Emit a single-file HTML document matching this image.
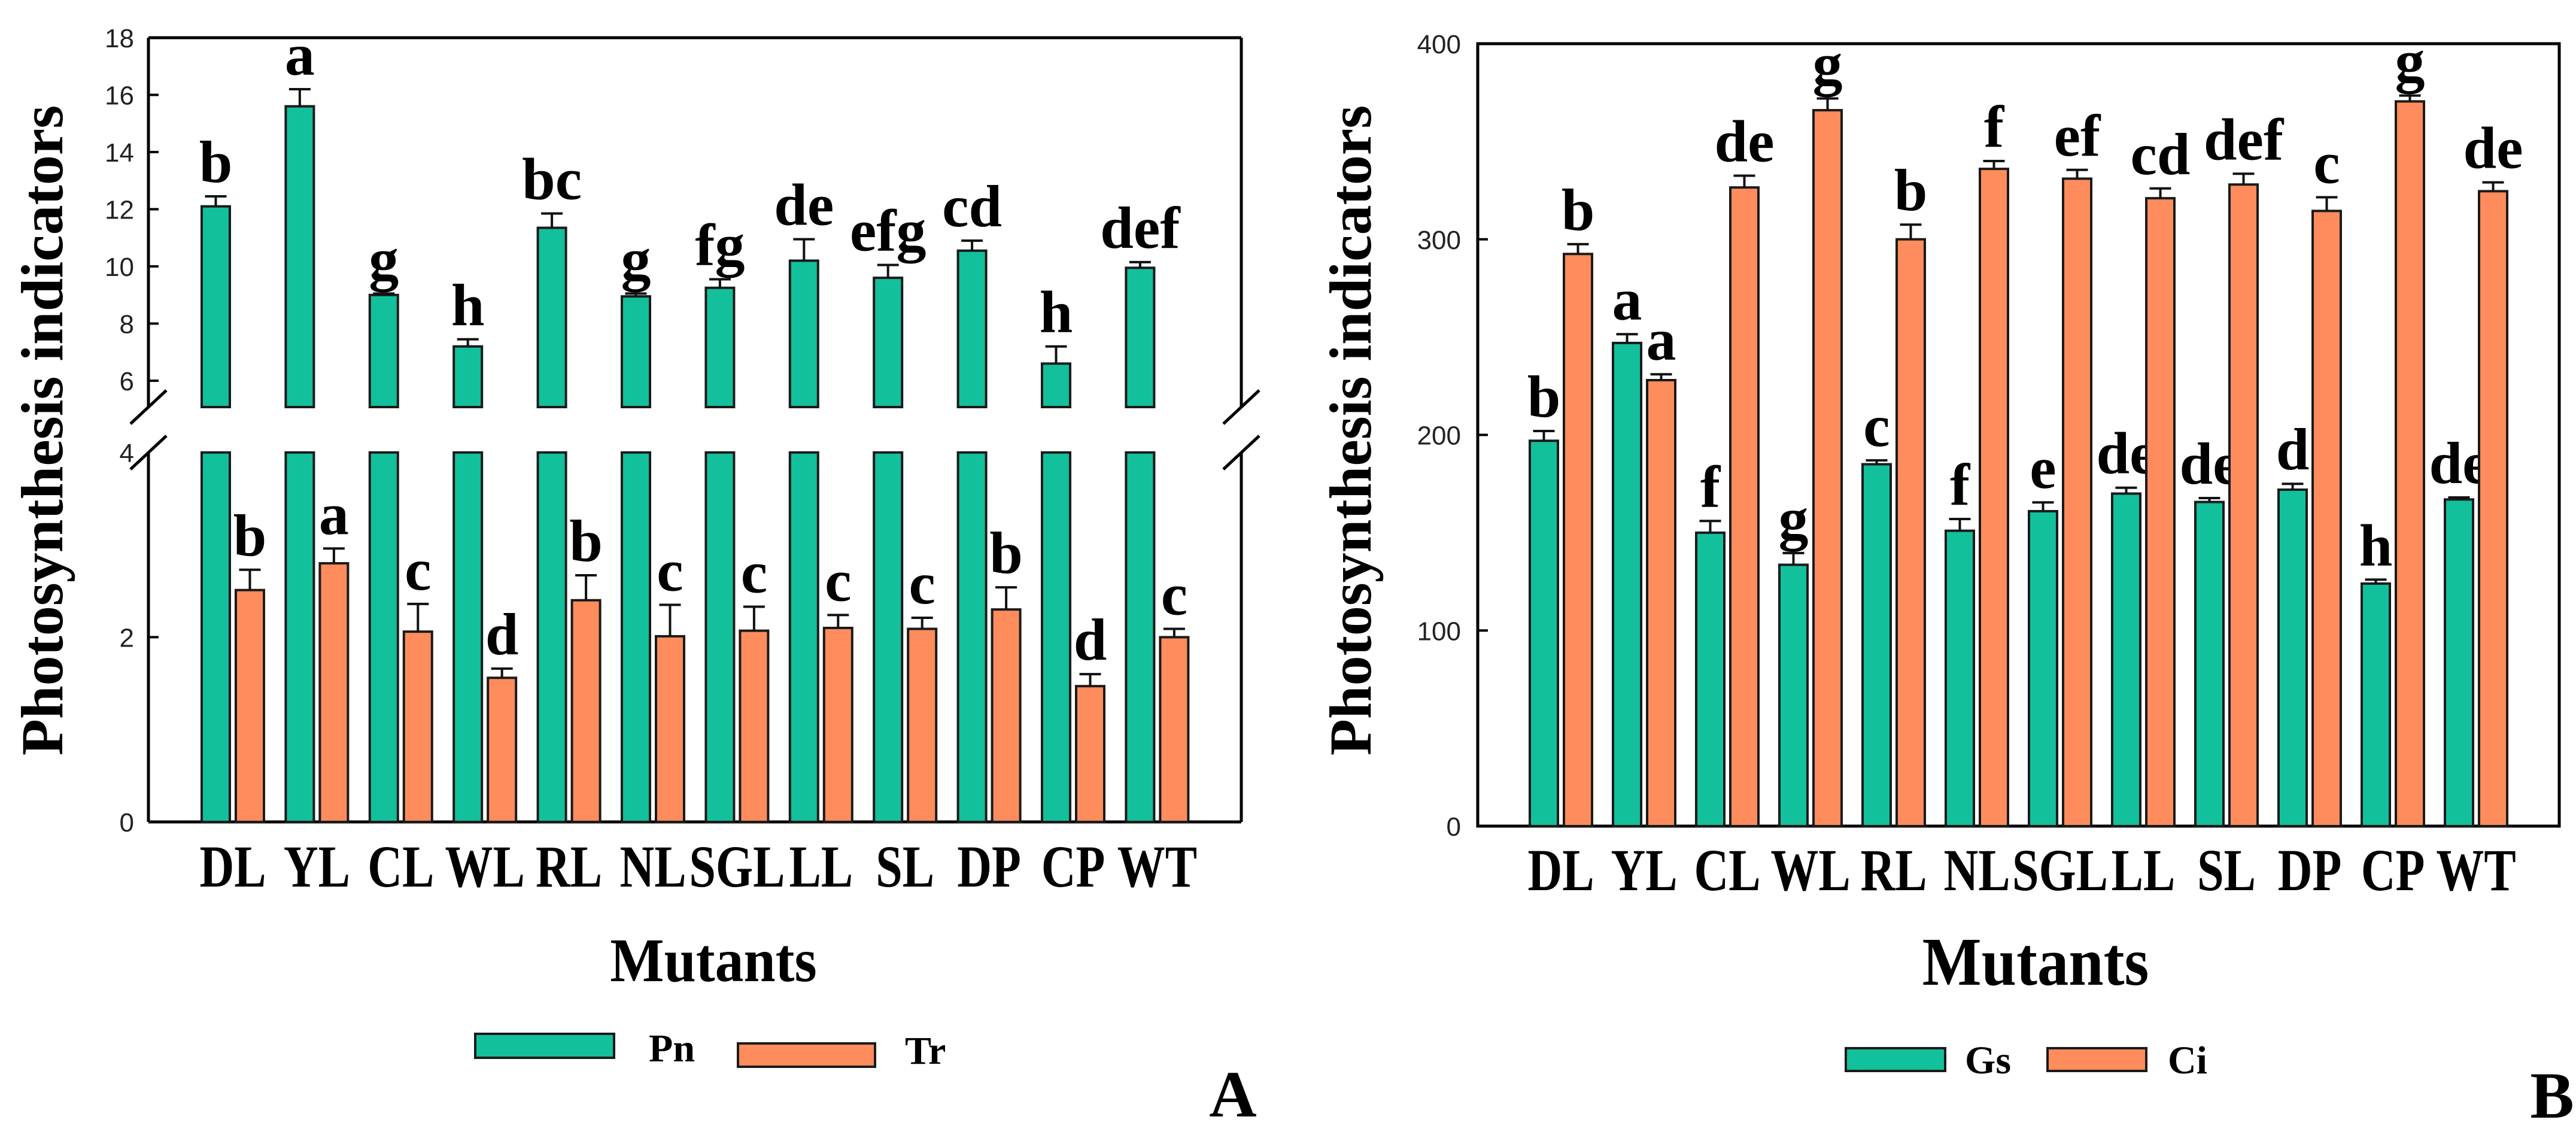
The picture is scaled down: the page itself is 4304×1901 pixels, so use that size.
<!DOCTYPE html>
<html><head><meta charset="utf-8"><style>
html,body{margin:0;padding:0;background:#fff}
svg{display:block}
.t{font-family:"Liberation Sans",sans-serif;font-size:44px;fill:#222}
.b{font-family:"Liberation Serif",serif;font-weight:bold;fill:#000}
</style></head><body>
<svg id="chart" width="4304" height="1901" viewBox="0 0 4304 1901" xmlns="http://www.w3.org/2000/svg">
<g id="A"></g>
<g id="B"></g>
</svg>
<script>
const categories = ["DL","YL","CL","WL","RL","NL","SGL","LL","SL","DP","CP","WT"];
const pnValues = [12.1,15.6,9.0,7.2,11.35,8.95,9.25,10.2,9.6,10.55,6.6,9.95];
const pnErrors = [0.35,0.6,0.05,0.25,0.5,0.1,0.3,0.75,0.45,0.35,0.6,0.2];
const pnLetters = ["b","a","g","h","bc","g","fg","de","efg","cd","h","def"];
const trValues = [2.51,2.8,2.06,1.56,2.4,2.01,2.07,2.1,2.09,2.3,1.47,2.0];
const trErrors = [0.22,0.16,0.3,0.1,0.27,0.34,0.26,0.14,0.12,0.24,0.13,0.09];
const trLetters = ["b","a","c","d","b","c","c","c","c","b","d","c"];
const gsValues = [197,247,150,133.6,185,151,161,170,165.7,172,124,167];
const gsErrors = [5,4.5,6,6,2,6,4.5,3,2,3,2,1];
const gsLetters = ["b","a","f","g","c","f","e","de","de","d","h","de"];
const ciValues = [292.5,228,326.5,366,300,336,331,321,328,314.5,370.5,324.6];
const ciErrors = [5,3,6,6,7.5,4,4.5,5,5.5,7,3,4.5];
const ciLetters = ["b","a","de","g","b","f","ef","cd","def","c","g","de"];
const ticksUpperA = [6,8,10,12,14,16,18];
const ticksLowerA = [0,2,4];
const ticksB = [0,100,200,300,400];

const NS="http://www.w3.org/2000/svg";
const GREEN="#12c09c", ORANGE="#ff8c5c", EDGE="#1a1a1a";
function mk(parent,tag,attrs){const e=document.createElementNS(NS,tag);for(const k in attrs)e.setAttribute(k,attrs[k]);parent.appendChild(e);return e;}
function txt(parent,x,y,s,cls,size,anchor){const e=mk(parent,"text",{x:x,y:y,"class":cls,"text-anchor":anchor||"middle"});if(size)e.setAttribute("font-size",size);e.textContent=s;return e;}
function ctxt(parent,x,y,s,size,sx){const e=mk(parent,"text",{x:0,y:0,"class":"b","text-anchor":"middle","font-size":size,transform:`translate(${x},${y}) scale(${sx},1)`});e.textContent=s;return e;}

// ---------- Panel A ----------
const A=document.getElementById("A");
const aL=248,aR=2074,aT=63,aBot=1373,brkHi=680,brkLo=756;
function yAU(v){return aT+(18-v)*47.75;}
function yAL(v){return aBot-v*154.3;}
const xA0=337,pitchA=140.4,bw=47,off=57;
function xA(i){return xA0+i*pitchA;}
let fr;
fr=mk(A,"line",{x1:aL,y1:aT,x2:aR,y2:aT,stroke:"#000","stroke-width":5});


fr=mk(A,"line",{x1:aL,y1:aBot,x2:aR,y2:aBot,stroke:"#000","stroke-width":5});


fr=mk(A,"path",{d:`M${aL},${aT}V${brkHi}M${aL},${brkLo}V${aBot}`,stroke:"#000","stroke-width":5,fill:"none"});


fr=mk(A,"path",{d:`M${aR},${aT}V${brkHi}M${aR},${brkLo}V${aBot}`,stroke:"#000","stroke-width":5,fill:"none"});


[aL,aR].forEach(x=>{[brkHi,brkLo].forEach(y=>{
  const l=mk(A,"line",{x1:x-30,y1:y+28,x2:x+30,y2:y-28,stroke:"#000","stroke-width":5});
  
  
});});
ticksUpperA.forEach(v=>{const y=yAU(v);
  if(v<18){const t=mk(A,"line",{x1:aL,y1:y,x2:aL+17,y2:y,stroke:"#000","stroke-width":4});}
  const l=txt(A,224,y+16,String(v),"t",null,"end");
  
  
});
ticksLowerA.forEach(v=>{const y=yAL(v);
  if(v>0&&v<4){const t=mk(A,"line",{x1:aL,y1:y,x2:aL+17,y2:y,stroke:"#000","stroke-width":4});}
  const l=txt(A,224,y+16,String(v),"t",null,"end");
  
  
});
function drawBar(g,x,v,err,letter,color,yf,name,splitTop){
  const top=yf(v);
  if(splitTop){
    const r1=mk(g,"rect",{x:x,y:yAL(4),width:bw,height:aBot-yAL(4),fill:color,stroke:EDGE,"stroke-width":4});
    
    
    const r2=mk(g,"rect",{x:x,y:top,width:bw,height:brkHi-top,fill:color,stroke:EDGE,"stroke-width":4});
    
    
  } else {
    const r=mk(g,"rect",{x:x,y:top,width:bw,height:yf(0)-top,fill:color,stroke:EDGE,"stroke-width":4});
    
    
  }
  const ey=yf(v+err),cx=x+bw/2;
  const e=mk(g,"path",{d:`M${cx},${top}V${ey}M${cx-18},${ey}H${cx+18}`,stroke:"#111","stroke-width":4,fill:"none"});
  
  
  const l=txt(g,cx,ey-24,letter,"b",100);
  
  
}
categories.forEach((c,i)=>{
  const x=xA(i);
  drawBar(A,x,pnValues[i],pnErrors[i],pnLetters[i],GREEN,yAU,'bar-pn-'+c.toLowerCase(),true);
  drawBar(A,x+off,trValues[i],trErrors[i],trLetters[i],ORANGE,yAL,'bar-tr-'+c.toLowerCase(),false);
  const l=ctxt(A,x+(off+bw)/2,1481,c,100,0.8);
  
  
});
let tt=ctxt(A,1192,1639,"Mutants",104,0.92);


tt=txt(A,0,0,"Photosynthesis indicators","b",100);
tt.setAttribute("transform","translate(104,719) rotate(-90)");


let lg=mk(A,"rect",{x:794,y:1727,width:232,height:40,fill:GREEN,stroke:EDGE,"stroke-width":4});


tt=txt(A,1084,1773,"Pn","b",66,"start");


lg=mk(A,"rect",{x:1233,y:1743,width:229,height:39,fill:ORANGE,stroke:EDGE,"stroke-width":4});


tt=txt(A,1512,1777,"Tr","b",66,"start");


tt=txt(A,2060,1865,"A","b",110);



// ---------- Panel B ----------
const B=document.getElementById("B");
const bL=2469,bR=4276,bT=73,bBot=1380;
function yB(v){return bBot-v*(bBot-bT)/400;}
const xB0=2556,pitchB=139;
function xB(i){return xB0+i*pitchB;}
fr=mk(B,"rect",{x:bL,y:bT,width:bR-bL,height:bBot-bT,fill:"none",stroke:"#000","stroke-width":5});


ticksB.forEach(v=>{const y=yB(v);
  if(v>0&&v<400){const t=mk(B,"line",{x1:bL,y1:y,x2:bL+17,y2:y,stroke:"#000","stroke-width":4});}
  const l=txt(B,2441,y+16,String(v),"t",null,"end");
  
  
});
categories.forEach((c,i)=>{
  const x=xB(i);
  drawBar(B,x,gsValues[i],gsErrors[i],gsLetters[i],GREEN,yB,'bar-gs-'+c.toLowerCase(),false);
  drawBar(B,x+off,ciValues[i],ciErrors[i],ciLetters[i],ORANGE,yB,'bar-ci-'+c.toLowerCase(),false);
  const l=ctxt(B,x+(off+bw)/2,1487,c,100,0.8);
  
  
});
tt=ctxt(B,3401,1645,"Mutants",114,0.92);


tt=txt(B,0,0,"Photosynthesis indicators","b",100);
tt.setAttribute("transform","translate(2290,719) rotate(-90)");


lg=mk(B,"rect",{x:3084,y:1751,width:166,height:38,fill:GREEN,stroke:EDGE,"stroke-width":4});


tt=txt(B,3283,1793,"Gs","b",66,"start");


lg=mk(B,"rect",{x:3421,y:1751,width:165,height:38,fill:ORANGE,stroke:EDGE,"stroke-width":4});


tt=txt(B,3622,1793,"Ci","b",66,"start");


tt=txt(B,4264,1867,"B","b",110);


</script>
</body></html>
